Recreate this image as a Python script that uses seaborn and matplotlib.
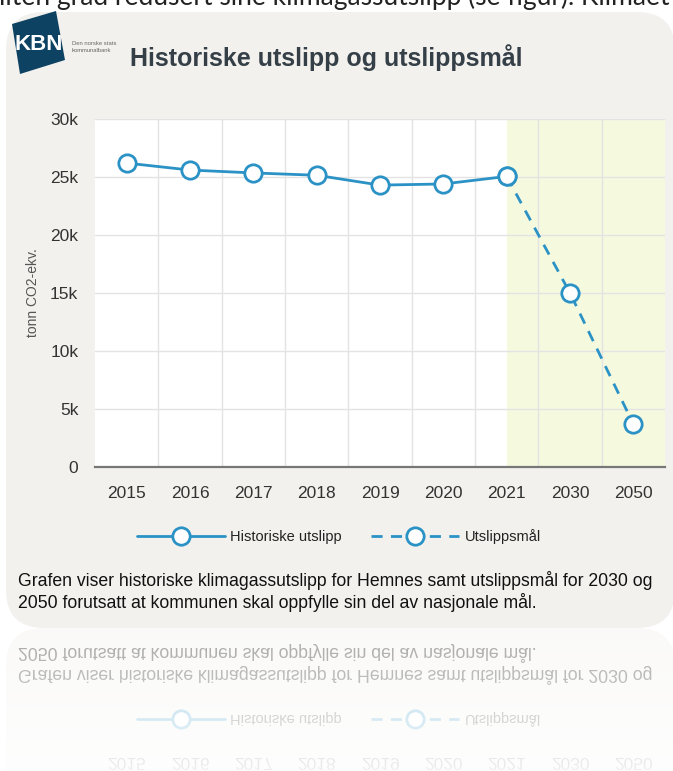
import numpy as np
import pandas as pd
import seaborn as sns
import matplotlib
matplotlib.use('Agg')
import matplotlib.pyplot as plt
from matplotlib.patches import FancyBboxPatch, Polygon
from matplotlib.ticker import FuncFormatter

# data (tonn CO2-ekv.)
years = ['2015', '2016', '2017', '2018', '2019', '2020', '2021', '2030', '2050']
hist_years = ['2015', '2016', '2017', '2018', '2019', '2020', '2021']
hist_values = [26200, 25600, 25350, 25150, 24300, 24400, 25050]
goal_years = ['2021', '2030', '2050']
goal_values = [25050, 15000, 3700]
y_ticks = [0, 5000, 10000, 15000, 20000, 25000, 30000]

hist = pd.DataFrame({'year': hist_years, 'value': hist_values})
goal = pd.DataFrame({'year': goal_years, 'value': goal_values})

sns.set_style('white')
plt.rcParams['font.family'] = ['Liberation Sans', 'DejaVu Sans']

blue = '#2b92c6'
W, H = 673, 771
fig = plt.figure(figsize=(W / 100, H / 100), dpi=100)
fig.patch.set_facecolor('white')

# background layer in pixel coords
bg = fig.add_axes([0, 0, 1, 1], zorder=-1)
bg.set_xlim(0, W)
bg.set_ylim(H, 0)
bg.axis('off')

# cut-off line of the surrounding document, above the card
bg.text(-1, 5, 'liten grad redusert sine klimagassutslipp (se figur). Klimaet',
        family='Lato', fontsize=19, color='#222222', va='baseline')

card = FancyBboxPatch((6, 12), 669, 616, boxstyle='round,pad=0,rounding_size=38',
                      fc='#f3f1ed', ec='none')
bg.add_patch(card)

# KBN logo
logo = Polygon([(12, 24), (56, 11), (65, 60), (20, 74)], closed=True, fc='#0e4263', ec='none')
bg.add_patch(logo)
bg.text(14, 45, 'KBN', color='white', fontsize=16, fontweight='bold', va='center')
bg.text(72, 47, 'Den norske stats\nkommunalbank', color='#666666', fontsize=4.2,
        va='center', linespacing=1.3)

bg.text(130, 58, 'Historiske utslipp og utslippsmål', fontsize=18, fontweight='bold',
        color='#343f47', va='center')

bg.text(18, 581, 'Grafen viser historiske klimagassutslipp for Hemnes samt utslippsmål for 2030 og',
        fontsize=12.7, color='#111111', va='center')
bg.text(18, 602, '2050 forutsatt at kommunen skal oppfylle sin del av nasjonale mål.',
        fontsize=12.7, color='#111111', va='center')

# chart
ax = fig.add_axes([95 / W, 1 - 467 / H, 570 / W, 348 / H])
ax.set_facecolor('white')

sns.lineplot(data=hist, x='year', y='value', ax=ax, color=blue, linewidth=2,
             marker='o', markersize=12.5, markerfacecolor='white', markeredgecolor=blue,
             markeredgewidth=2, label='Historiske utslipp', zorder=4)
sns.lineplot(data=goal, x='year', y='value', ax=ax, color=blue, linewidth=2,
             linestyle=(0, (4, 3)), marker='o', markersize=12.5, markerfacecolor='white',
             markeredgecolor=blue, markeredgewidth=2, label='Utslippsmål', zorder=3)

ax.axvspan(years.index('2021'), len(years) - 0.5, color='#f5f9de', zorder=0, lw=0)

ax.set_xlim(-0.5, len(years) - 0.5)
ax.set_ylim(0, 30000)
ax.set_xticks(range(len(years)))
ax.set_xticklabels(years)
ax.set_xticks(np.arange(0.5, len(years) - 1, 1), minor=True)
ax.set_yticks(y_ticks)
ax.yaxis.set_major_formatter(FuncFormatter(lambda v, p: '0' if v == 0 else f'{int(v / 1000)}k'))
ax.grid(axis='y', which='major', color='#e3e3e3', lw=1, zorder=1)
ax.grid(axis='x', which='minor', color='#e3e3e3', lw=1, zorder=1)
ax.grid(axis='x', which='major', visible=False)
ax.set_axisbelow(True)
ax.tick_params(axis='both', which='both', length=0)
ax.tick_params(axis='y', pad=12, labelsize=12.5, labelcolor='#333333')
ax.tick_params(axis='x', pad=14, labelsize=12.5, labelcolor='#333333')
for s in ['left', 'top', 'right']:
    ax.spines[s].set_visible(False)
ax.spines['bottom'].set_color('#777777')
ax.spines['bottom'].set_linewidth(1.6)
ax.set_xlabel('')
ax.set_ylabel('tonn CO2-ekv.', fontsize=10, color='#555555', labelpad=7)

handles, labels = ax.get_legend_handles_labels()
ax.legend(handles, labels, loc='center', bbox_to_anchor=(339, 537), bbox_transform=bg.transData,
          ncol=2, frameon=False, handlelength=6, handletextpad=0.4, columnspacing=2.0,
          fontsize=10.5, labelcolor='#222222')

# faded mirror of the card bottom
fig.canvas.draw()
img = np.asarray(fig.canvas.buffer_rgba())[:, :, :3].astype(float) / 255
mirror_row = 628
h = H - mirror_row
refl = img[mirror_row - h:mirror_row][::-1]
alpha = np.linspace(0.38, 0.08, h)[:, None, None]
refl = 1 - alpha * (1 - refl)
fig.figimage(refl, xo=0, yo=0, zorder=5)

fig.savefig('out.png', dpi=100)
